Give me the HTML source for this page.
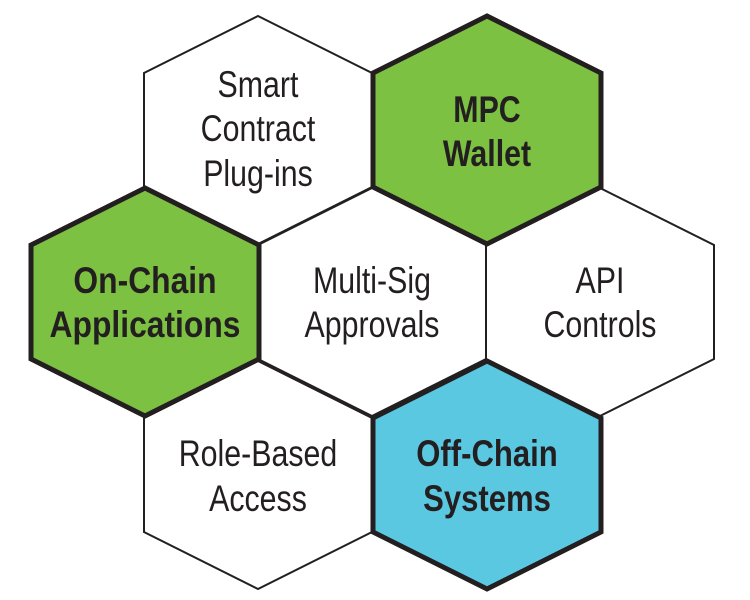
<!DOCTYPE html>
<html><head><style>
html,body{margin:0;padding:0;background:#fff;width:750px;height:600px;overflow:hidden}
text{font-family:"Liberation Sans",sans-serif;font-size:37px;fill:#231f20;text-anchor:middle}
.b{font-weight:bold}
</style></head><body>
<svg width="750" height="600" viewBox="0 0 750 600" xmlns="http://www.w3.org/2000/svg">
<defs>
<polygon id="h" points="0,-114 114,-57 114,57 0,114 -114,57 -114,-57"/>
</defs>
<g stroke="#231f20" stroke-width="2" fill="#fff" stroke-linejoin="miter">
<use href="#h" x="258" y="130"/>
<use href="#h" x="372" y="302"/>
<use href="#h" x="600" y="302"/>
<use href="#h" x="258" y="475"/>
</g>
<g stroke="#231f20" stroke-width="5" stroke-linejoin="miter">
<use href="#h" x="487" y="130" fill="#7dc142"/>
<use href="#h" x="145" y="302" fill="#7dc142"/>
<use href="#h" x="487" y="475" fill="#5bc8e2"/>
</g>
<g transform="translate(258,0) scale(0.82,1)"><text y="97">Smart</text><text y="141">Contract</text><text y="186">Plug-ins</text></g>
<g transform="translate(487,0) scale(0.82,1)"><text class="b" y="122">MPC</text><text class="b" y="166">Wallet</text></g>
<g transform="translate(145,0) scale(0.86,1)"><text class="b" y="293">On-Chain</text><text class="b" y="337">Applications</text></g>
<g transform="translate(372,0) scale(0.82,1)"><text y="293">Multi-Sig</text><text y="337">Approvals</text></g>
<g transform="translate(600,0) scale(0.82,1)"><text y="293">API</text><text y="337">Controls</text></g>
<g transform="translate(258,0) scale(0.82,1)"><text y="466">Role-Based</text><text y="511">Access</text></g>
<g transform="translate(487,0) scale(0.84,1)"><text class="b" y="466">Off-Chain</text><text class="b" y="511">Systems</text></g>
</svg>
</body></html>
